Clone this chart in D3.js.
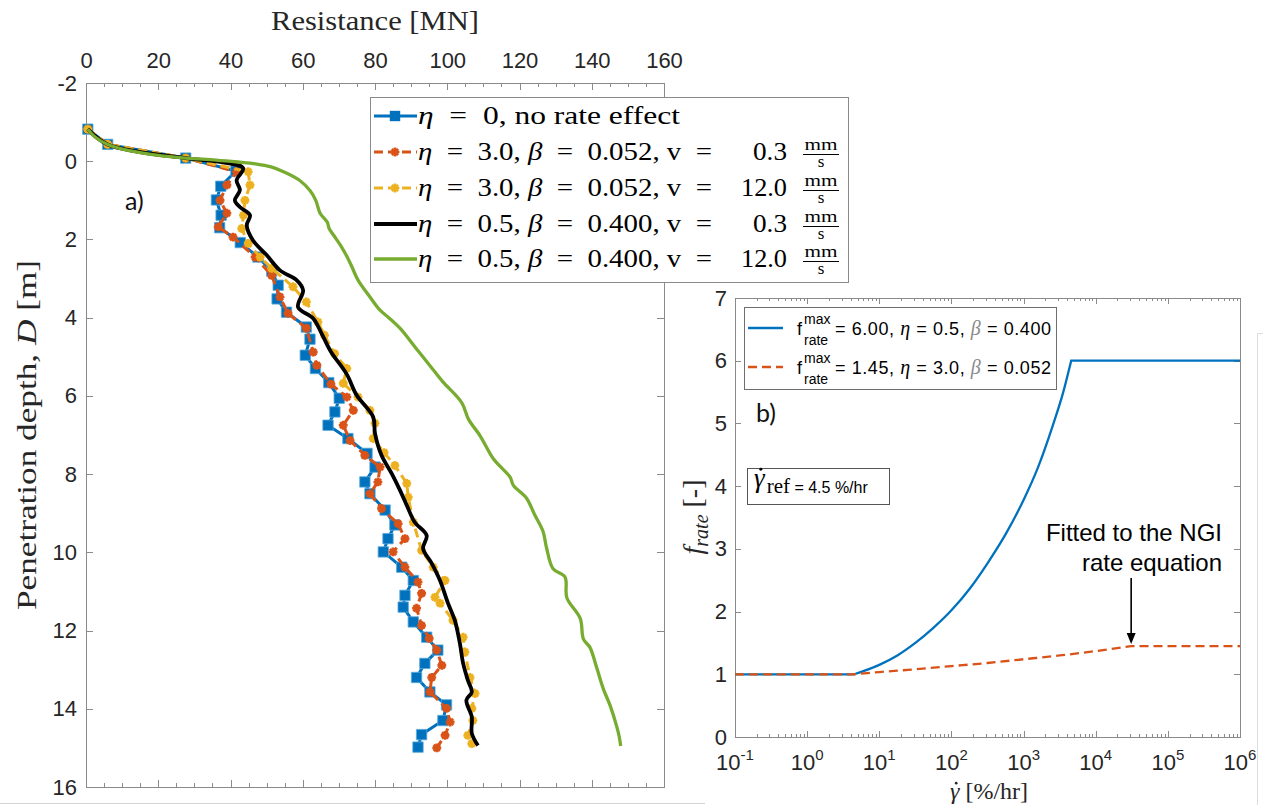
<!DOCTYPE html>
<html>
<head>
<meta charset="utf-8">
<script src="https://cdn.jsdelivr.net/npm/d3@7/dist/d3.min.js"></script>
<style>
  html, body { margin: 0; padding: 0; background: #fff; }
  svg { display: block; }
  text { white-space: pre; }
</style>
</head>
<body>
<svg id="fig" width="1263" height="805"></svg>
<script>
// ---------------- Panel a) : penetration resistance profiles ----------------
const resTicks = [0, 20, 40, 60, 80, 100, 120, 140, 160];
const resMinorTicks = [5, 10, 15, 25, 30, 35, 45, 50, 55, 65, 70, 75, 85, 90, 95, 105, 110, 115, 125, 130, 135, 145, 150, 155];
const depthTicks = [-2, 0, 2, 4, 6, 8, 10, 12, 14, 16];

// surface points shared by every run
const surfaceRes   = [0.5, 6.0, 27.6];
const surfaceDepth = [-0.82, -0.43, -0.08];

// eta = 0 (no rate effect)
const noRateRes = [41.5, 37.3, 36.1, 37.4, 37.0, 42.7, 47.6, 51.4, 53.2, 52.9, 55.5, 61.0, 62.0, 60.7, 63.5, 67.2, 70.1, 68.9, 67.0, 72.5, 77.8, 80.0, 77.2, 78.6, 82.8, 85.5, 83.6, 82.3, 87.4, 90.6, 88.3, 87.8, 90.6, 94.3, 97.4, 93.8, 91.5, 95.2, 99.8, 98.8, 92.9, 91.9];
const noRateDepth = [0.25, 0.64, 0.99, 1.38, 1.70, 2.08, 2.45, 2.81, 3.17, 3.52, 3.86, 4.24, 4.55, 4.96, 5.30, 5.66, 6.06, 6.41, 6.75, 7.09, 7.47, 7.82, 8.20, 8.50, 8.92, 9.30, 9.65, 9.99, 10.38, 10.72, 11.10, 11.40, 11.78, 12.17, 12.50, 12.84, 13.20, 13.57, 13.90, 14.30, 14.66, 14.98];

// eta = 3.0, beta = 0.052, v = 0.3 mm/s
const ngiSlowRes = [41.7, 39.0, 37.1, 39.0, 36.6, 40.7, 46.8, 51.4, 53.7, 55.9, 61.0, 62.9, 63.9, 67.8, 72.2, 74.0, 71.2, 73.1, 77.2, 81.4, 80.8, 78.6, 81.8, 86.4, 88.3, 85.0, 88.3, 91.9, 92.9, 91.5, 92.9, 95.0, 97.1, 98.5, 95.7, 95.2, 99.8, 100.8, 99.4, 97.1];
const ngiSlowDepth = [0.27, 0.61, 1.00, 1.33, 1.68, 1.94, 2.45, 2.92, 3.47, 3.89, 4.27, 4.88, 5.22, 5.70, 6.03, 6.37, 6.75, 7.14, 7.52, 7.82, 8.20, 8.50, 8.88, 9.27, 9.65, 9.99, 10.38, 10.76, 11.05, 11.43, 11.87, 12.20, 12.50, 12.89, 13.20, 13.57, 13.99, 14.34, 14.68, 15.00];

// eta = 3.0, beta = 0.052, v = 12.0 mm/s
const ngiFastRes = [44.9, 45.4, 44.0, 43.6, 43.1, 44.9, 48.2, 51.4, 57.3, 61.0, 64.2, 66.0, 68.8, 72.2, 71.2, 75.3, 78.6, 80.0, 79.5, 82.5, 85.5, 88.8, 89.2, 90.6, 92.9, 96.1, 99.4, 96.6, 98.0, 101.6, 104.4, 104.9, 106.3, 107.7, 106.8, 107.1, 105.7, 106.8];
const ngiFastDepth = [0.27, 0.61, 1.00, 1.38, 1.72, 2.10, 2.45, 2.74, 3.21, 3.60, 4.11, 4.45, 4.92, 5.30, 5.68, 6.03, 6.37, 6.70, 7.09, 7.45, 7.78, 8.24, 8.59, 9.23, 9.95, 10.38, 10.72, 11.15, 11.30, 11.74, 12.17, 12.55, 13.20, 13.61, 13.99, 14.30, 14.68, 14.89];

// eta = 0.5, beta = 0.400, v = 0.3 mm/s
const powSlowRes = [38.0, 43.5, 41.7, 42.6, 41.2, 42.6, 45.4, 44.5, 46.2, 50.0, 53.7, 58.3, 60.1, 58.7, 62.9, 65.2, 67.8, 72.2, 74.9, 79.5, 80.0, 81.8, 84.6, 86.9, 88.8, 91.0, 94.3, 93.3, 95.7, 98.0, 100.2, 102.1, 103.5, 104.4, 105.7, 106.8, 105.3, 106.8, 106.8, 108.5];
const powSlowDepth = [0.03, 0.18, 0.49, 0.74, 1.00, 1.17, 1.38, 1.64, 2.02, 2.40, 2.79, 3.04, 3.30, 3.73, 4.02, 4.40, 4.87, 5.45, 5.98, 6.54, 6.96, 7.52, 7.98, 8.41, 8.80, 9.23, 9.57, 9.90, 10.28, 10.72, 11.30, 11.74, 12.33, 12.84, 13.27, 13.57, 13.78, 14.21, 14.63, 14.94];

// eta = 0.5, beta = 0.400, v = 12.0 mm/s
const powFastRes = [2.5, 12.0, 20.0, 36.0, 42.0, 47.0, 51.0, 55.0, 59.0, 62.0, 63.6, 64.8, 66.8, 67.3, 68.6, 70.8, 72.3, 73.6, 75.3, 78.6, 81.4, 83.8, 86.9, 91.5, 96.1, 98.8, 104.0, 105.9, 109.1, 112.7, 117.4, 118.3, 121.9, 124.2, 126.5, 127.5, 129.3, 132.6, 133.1, 136.8, 137.7, 139.5, 141.4, 143.2, 145.1, 146.9, 147.6, 148.0];
const powFastDepth = [-0.62, -0.27, -0.15, -0.03, 0.02, 0.07, 0.14, 0.28, 0.48, 0.75, 1.00, 1.33, 1.56, 1.72, 1.90, 2.20, 2.45, 2.70, 3.04, 3.47, 3.81, 4.00, 4.27, 4.80, 5.33, 5.64, 6.17, 6.60, 7.02, 7.60, 8.08, 8.29, 8.61, 9.04, 9.46, 9.89, 10.42, 10.63, 11.16, 11.69, 12.22, 12.43, 12.96, 13.49, 13.92, 14.45, 14.71, 14.95];

// legend parameters of the five runs
const etaValues   = ['0', '3.0', '3.0', '0.5', '0.5'];
const betaValues  = [null, '0.052', '0.052', '0.400', '0.400'];
const speedValues = [null, '0.3', '12.0', '0.3', '12.0'];

// ---------------- Panel b) : rate factor vs shear strain rate ----------------
const rateDecades = [1e-1, 1e0, 1e1, 1e2, 1e3, 1e4, 1e5, 1e6];
const fTicks = [0, 1, 2, 3, 4, 5, 6, 7];
const fMaxPower = 6.00, fMaxNGI = 1.45;
const refRate = 4.5;

const powerRate = [0.1, refRate, 10, 17.8, 31.6, 56.2, 100, 178, 316, 562, 1000, 1585, 2512, 3548, 4571, 1e6];
const powerF    = [1, 1, 1.15, 1.30, 1.50, 1.74, 2.02, 2.36, 2.77, 3.23, 3.78, 4.30, 4.95, 5.50, fMaxPower, fMaxPower];
const ngiRate = [0.1, refRate, 10, 31.6, 100, 316, 1000, 3162, 10000, 31000, 1e6];
const ngiF    = [1, 1, 1.035, 1.08, 1.13, 1.18, 1.24, 1.30, 1.37, fMaxNGI, fMaxNGI];
const noteRate = 31000;

// ---------------- drawing ----------------
const svg = d3.select('#fig');
const AX = '#8a8a8a', TXT = '#262626';
const SANS = '"Liberation Sans", Arial, sans-serif';
const SERIF = '"Liberation Serif", "Times New Roman", serif';
const TAG = 'Lato, "Open Sans", sans-serif';
const BLUE = '#0072BD', ORANGE = '#D95319', YELLOW = '#EDB120', GREEN = '#77AC30';

const xA = d3.scaleLinear().domain([0, 160]).range([86, 664]);
const yA = d3.scaleLinear().domain([-2, 16]).range([83, 787]);
const xB = d3.scaleLog().domain([1e-1, 1e6]).range([735, 1240]);
const yB = d3.scaleLinear().domain([0, 7]).range([737, 298]);

function styleAxis(g, size) {
  g.select('.domain').remove();
  g.selectAll('line').attr('stroke', AX).attr('shape-rendering', 'crispEdges');
  g.selectAll('text').attr('fill', TXT).attr('font-family', SANS).attr('font-size', size || 22);
}

// dot accent over the first glyph of a text (gamma-dot)
function dotOver(textSel, baseline, fontSize, shift) {
  const box = textSel.node().getExtentOfChar(0);
  textSel.select(function () { return this.parentNode; }).append('circle')
    .attr('cx', box.x + box.width / 2 + shift)
    .attr('cy', baseline - fontSize * 0.66)
    .attr('r', fontSize * 0.055)
    .attr('fill', textSel.attr('fill'));
}

// asterisk marker (eight rays)
const asterisk = {
  draw(ctx, size) {
    const r = Math.sqrt(size) / 2;
    for (let i = 0; i < 4; i++) {
      const a = i * Math.PI / 4, dx = r * Math.cos(a), dy = r * Math.sin(a);
      ctx.moveTo(-dx, -dy); ctx.lineTo(dx, dy);
    }
  }
};

// light frame lines around the panels
svg.append('line').attr('x1', 0).attr('x2', 705).attr('y1', 803.5).attr('y2', 803.5).attr('stroke', '#d4d4d4');
svg.append('path').attr('d', 'M1263,333.5H1257.5V805').attr('fill', 'none').attr('stroke', '#dcdcdc');

// ===== Panel a =====
const gA = svg.append('g');
gA.append('rect').attr('x', 86).attr('y', 83).attr('width', 578).attr('height', 704)
  .attr('fill', '#fff').attr('stroke', AX).attr('shape-rendering', 'crispEdges');

gA.append('g').attr('transform', 'translate(0,83)')
  .call(d3.axisTop(xA).tickValues(resTicks).tickSize(-7).tickPadding(15).tickFormat(d => String(d)))
  .call(styleAxis);
gA.append('g').attr('transform', 'translate(0,83)')
  .call(d3.axisTop(xA).tickValues(resMinorTicks).tickSize(-4).tickFormat(''))
  .call(styleAxis);
gA.append('g').attr('transform', 'translate(0,787)')
  .call(d3.axisBottom(xA).tickValues(resTicks).tickSize(-7).tickFormat(''))
  .call(styleAxis);
gA.append('g').attr('transform', 'translate(0,787)')
  .call(d3.axisBottom(xA).tickValues(resMinorTicks).tickSize(-4).tickFormat(''))
  .call(styleAxis);
gA.append('g').attr('transform', 'translate(86,0)')
  .call(d3.axisLeft(yA).tickValues(depthTicks).tickSize(-7).tickPadding(9).tickFormat(d => String(d)))
  .call(styleAxis);
gA.append('g').attr('transform', 'translate(664,0)')
  .call(d3.axisRight(yA).tickValues(depthTicks).tickSize(-7).tickFormat(''))
  .call(styleAxis);

// axis titles
gA.append('text').attr('x', 375).attr('y', 30).attr('text-anchor', 'middle')
  .attr('font-family', SERIF).attr('font-size', 28).attr('fill', TXT)
  .attr('textLength', 208).attr('lengthAdjust', 'spacingAndGlyphs')
  .text('Resistance [MN]');
const yTitle = gA.append('text').attr('transform', 'translate(36,435) rotate(-90)')
  .attr('text-anchor', 'middle').attr('font-family', SERIF).attr('font-size', 28).attr('fill', TXT)
  .attr('textLength', 350).attr('lengthAdjust', 'spacingAndGlyphs');
yTitle.append('tspan').text('Penetration depth, ');
yTitle.append('tspan').attr('font-style', 'italic').text('D');
yTitle.append('tspan').text(' [m]');

gA.append('text').attr('x', 125).attr('y', 210).attr('font-family', TAG)
  .attr('font-size', 25).attr('fill', '#111').text('a)');

// runs
function withSurface(res, depth) {
  return d3.zip(surfaceRes.concat(res), surfaceDepth.concat(depth))
    .sort((a, b) => a[1] - b[1]);
}
const runs = [
  { pts: withSurface(noRateRes, noRateDepth), color: BLUE, width: 3, dash: null, marker: 'square', curve: d3.curveLinear },
  { pts: withSurface(ngiSlowRes, ngiSlowDepth), color: ORANGE, width: 3, dash: '9,5', marker: 'star', curve: d3.curveLinear },
  { pts: withSurface(ngiFastRes, ngiFastDepth), color: YELLOW, width: 3, dash: '9,5', marker: 'star', curve: d3.curveLinear },
  { pts: withSurface(powSlowRes, powSlowDepth), color: '#000', width: 3.8, dash: null, marker: null, curve: d3.curveCatmullRom },
  { pts: withSurface(powFastRes, powFastDepth), color: GREEN, width: 3.3, dash: null, marker: null, curve: d3.curveCatmullRom }
];
const lineA = d3.line().x(d => xA(d[0])).y(d => yA(d[1]));
const squareSym = d3.symbol().type(d3.symbolSquare).size(108);
const starSym = d3.symbol().type(asterisk).size(78);

runs.forEach(r => {
  const g = gA.append('g');
  g.append('path').datum(r.pts).attr('d', lineA.curve(r.curve))
    .attr('fill', 'none').attr('stroke', r.color).attr('stroke-width', r.width)
    .attr('stroke-linejoin', 'round').attr('stroke-dasharray', r.dash);
  if (r.marker === 'square') {
    g.selectAll('path.m').data(r.pts).join('path').attr('class', 'm')
      .attr('transform', d => `translate(${xA(d[0])},${yA(d[1])})`)
      .attr('d', squareSym).attr('fill', r.color).attr('stroke', '#5aa9dc').attr('stroke-width', 0.8);
  } else if (r.marker === 'star') {
    g.selectAll('path.m').data(r.pts).join('path').attr('class', 'm')
      .attr('transform', d => `translate(${xA(d[0])},${yA(d[1])})`)
      .attr('d', starSym).attr('fill', 'none').attr('stroke', r.color).attr('stroke-width', 2.6);
  }
});

// legend of panel a
const legA = svg.append('g');
legA.append('rect').attr('x', 370).attr('y', 97).attr('width', 478).attr('height', 185)
  .attr('fill', '#fff').attr('stroke', AX).attr('shape-rendering', 'crispEdges');
const rowY = [115, 151, 187, 223, 258];
runs.forEach((r, i) => {
  const y = rowY[i] + 1;
  legA.append('line').attr('x1', 374).attr('x2', 417).attr('y1', y).attr('y2', y)
    .attr('stroke', r.color).attr('stroke-width', r.width).attr('stroke-dasharray', r.dash);
  if (r.marker === 'square') {
    legA.append('path').attr('transform', `translate(395,${y})`).attr('d', squareSym).attr('fill', r.color);
  } else if (r.marker === 'star') {
    legA.append('path').attr('transform', `translate(395,${y})`).attr('d', starSym)
      .attr('fill', 'none').attr('stroke', r.color).attr('stroke-width', 2.6);
  }
  const base = rowY[i] + 9;
  const t = legA.append('text').attr('x', 418).attr('y', base)
    .attr('font-family', SERIF).attr('font-size', 26).attr('fill', '#000').attr('lengthAdjust', 'spacingAndGlyphs');
  t.append('tspan').attr('font-style', 'italic').text('η');
  if (betaValues[i] === null) {
    t.append('tspan').text('  =  ' + etaValues[i] + ', no rate effect');
    t.attr('textLength', 262);
  } else {
    t.append('tspan').text('  =  ' + etaValues[i] + ', ');
    t.append('tspan').attr('font-style', 'italic').text('β');
    t.append('tspan').text('  =  ' + betaValues[i] + ', v  =');
    t.attr('textLength', 294);
    legA.append('text').attr('x', 787).attr('y', base).attr('text-anchor', 'end')
      .attr('font-family', SERIF).attr('font-size', 26).attr('fill', '#000')
      .attr('textLength', speedValues[i].length > 3 ? 46 : 34).attr('lengthAdjust', 'spacingAndGlyphs')
      .text(speedValues[i]);
    legA.append('text').attr('x', 821).attr('y', base - 10).attr('text-anchor', 'middle')
      .attr('font-family', SERIF).attr('font-size', 17).attr('fill', '#000')
      .attr('textLength', 33).attr('lengthAdjust', 'spacingAndGlyphs').text('mm');
    legA.append('line').attr('x1', 803).attr('x2', 839).attr('y1', base - 5.5).attr('y2', base - 5.5)
      .attr('stroke', '#000').attr('stroke-width', 1);
    legA.append('text').attr('x', 821).attr('y', base + 7).attr('text-anchor', 'middle')
      .attr('font-family', SERIF).attr('font-size', 17).attr('fill', '#000').text('s');
  }
});

// ===== Panel b =====
const gB = svg.append('g');
gB.append('rect').attr('x', 735).attr('y', 298).attr('width', 505).attr('height', 439)
  .attr('fill', '#fff').attr('stroke', AX).attr('shape-rendering', 'crispEdges');

const minorRates = [];
rateDecades.slice(0, -1).forEach(d => { for (let k = 2; k <= 9; k++) minorRates.push(d * k); });

gB.append('g').attr('transform', 'translate(735,0)')
  .call(d3.axisLeft(yB).tickValues(fTicks).tickSize(-6).tickPadding(8).tickFormat(d => String(d)))
  .call(styleAxis);
gB.append('g').attr('transform', 'translate(1240,0)')
  .call(d3.axisRight(yB).tickValues(fTicks).tickSize(-6).tickFormat(''))
  .call(styleAxis);
[[737, d3.axisBottom], [298, d3.axisTop]].forEach(([y, ax]) => {
  gB.append('g').attr('transform', `translate(0,${y})`)
    .call(ax(xB).tickValues(rateDecades).tickSize(-6).tickFormat(''))
    .call(styleAxis);
  gB.append('g').attr('transform', `translate(0,${y})`)
    .call(ax(xB).tickValues(minorRates).tickSize(-3).tickFormat(''))
    .call(styleAxis);
});
rateDecades.forEach(v => {
  const t = gB.append('text').attr('x', xB(v)).attr('y', 770).attr('text-anchor', 'middle')
    .attr('font-family', SANS).attr('font-size', 22).attr('fill', TXT);
  t.append('tspan').text('10');
  t.append('tspan').attr('dy', -10).attr('font-size', 15).text(String(Math.round(Math.log10(v))));
});

// axis titles
const xTitleB = gB.append('text').attr('x', 989).attr('y', 799).attr('text-anchor', 'middle')
  .attr('font-family', SERIF).attr('font-size', 24).attr('fill', TXT);
xTitleB.append('tspan').attr('font-style', 'italic').text('γ');
xTitleB.append('tspan').text(' [%/hr]');
dotOver(xTitleB, 799, 24, 1.5);

const yTitleB = gB.append('text').attr('transform', 'translate(702,517) rotate(-90)')
  .attr('text-anchor', 'middle').attr('font-family', SERIF).attr('font-size', 28).attr('fill', TXT);
yTitleB.append('tspan').attr('font-style', 'italic').text('f');
yTitleB.append('tspan').attr('font-style', 'italic').attr('font-size', 20).attr('dy', 6).text('rate');
yTitleB.append('tspan').attr('dy', -6).text(' [-]');

// curves: the rising part is smooth, the capped/flat parts are straight
function drawRate(rates, fs, color, dash) {
  const pts = d3.zip(rates, fs);
  const line = d3.line().x(d => xB(d[0])).y(d => yB(d[1]));
  const iStart = fs.lastIndexOf(1);
  const iCap = fs.indexOf(fs[fs.length - 1]);
  const path = line.curve(d3.curveLinear)(pts.slice(0, iStart + 1)) +
    line.curve(d3.curveMonotoneX)(pts.slice(iStart, iCap + 1)).replace(/^M/, 'L') +
    line.curve(d3.curveLinear)(pts.slice(iCap)).replace(/^M/, 'L');
  gB.append('path').attr('d', path).attr('fill', 'none').attr('stroke', color)
    .attr('stroke-width', 2.3).attr('stroke-dasharray', dash);
}
drawRate(powerRate, powerF, BLUE, null);
drawRate(ngiRate, ngiF, ORANGE, '9,5');

// annotation with arrow
gB.append('text').attr('x', 1222).attr('y', 541).attr('text-anchor', 'end')
  .attr('font-family', SANS).attr('font-size', 24).attr('fill', '#000').text('Fitted to the NGI');
gB.append('text').attr('x', 1222).attr('y', 571).attr('text-anchor', 'end')
  .attr('font-family', SANS).attr('font-size', 24).attr('fill', '#000').text('rate equation');
const ax0 = xB(noteRate);
gB.append('line').attr('x1', ax0).attr('x2', ax0).attr('y1', 578).attr('y2', yB(fMaxNGI) - 10)
  .attr('stroke', '#000').attr('stroke-width', 1.6);
gB.append('path').attr('d', `M${ax0 - 4.5},${yB(fMaxNGI) - 13}L${ax0 + 4.5},${yB(fMaxNGI) - 13}L${ax0},${yB(fMaxNGI) - 2}Z`)
  .attr('fill', '#000');

gB.append('text').attr('x', 756).attr('y', 422).attr('font-family', TAG)
  .attr('font-size', 25).attr('fill', '#111').text('b)');

// reference strain rate box
gB.append('rect').attr('x', 747).attr('y', 468).attr('width', 142).attr('height', 36)
  .attr('fill', '#fff').attr('stroke', '#555').attr('shape-rendering', 'crispEdges');
const refT = gB.append('text').attr('x', 754).attr('y', 487).attr('font-family', SERIF).attr('font-size', 27).attr('fill', '#000');
refT.append('tspan').attr('font-style', 'italic').text('γ');
refT.append('tspan').attr('font-size', 21).attr('dy', 6).attr('dx', 2).text('ref');
refT.append('tspan').attr('font-family', SANS).attr('font-size', 16).text(' = ' + refRate + ' %/hr');
dotOver(refT, 487, 27, 1.5);

// legend of panel b
const legB = svg.append('g');
legB.append('rect').attr('x', 744).attr('y', 307).attr('width', 312).attr('height', 82)
  .attr('fill', '#fff').attr('stroke', '#6e6e6e').attr('shape-rendering', 'crispEdges');
const legBItems = [
  { f: fMaxPower, eta: '0.5', beta: '0.400', color: BLUE, dash: null, y: 328 },
  { f: fMaxNGI, eta: '3.0', beta: '0.052', color: ORANGE, dash: '9,5', y: 367 }
];
legBItems.forEach(it => {
  legB.append('line').attr('x1', 748).attr('x2', 783).attr('y1', it.y).attr('y2', it.y)
    .attr('stroke', it.color).attr('stroke-width', 2.3).attr('stroke-dasharray', it.dash);
  const b = it.y + 7;
  legB.append('text').attr('x', 797).attr('y', b).attr('font-family', SANS).attr('font-size', 18).attr('fill', '#000').text('f');
  legB.append('text').attr('x', 804).attr('y', b - 11).attr('font-family', SANS).attr('font-size', 14).attr('fill', '#000').text('max');
  legB.append('text').attr('x', 804).attr('y', b + 10).attr('font-family', SANS).attr('font-size', 14).attr('fill', '#000').text('rate');
  const t = legB.append('text').attr('x', 835).attr('y', b).attr('font-family', SANS).attr('font-size', 18)
    .attr('fill', '#000').attr('textLength', 216).attr('lengthAdjust', 'spacing');
  t.append('tspan').text('= ' + it.f.toFixed(2) + ', ');
  t.append('tspan').attr('font-family', SERIF).attr('font-style', 'italic').attr('font-size', 20).text('η');
  t.append('tspan').text(' = ' + it.eta + ', ');
  t.append('tspan').attr('font-family', SERIF).attr('font-style', 'italic').attr('font-size', 20).attr('fill', '#8a8a8a').text('β');
  t.append('tspan').text(' = ' + it.beta);
});
</script>
</body>
</html>
